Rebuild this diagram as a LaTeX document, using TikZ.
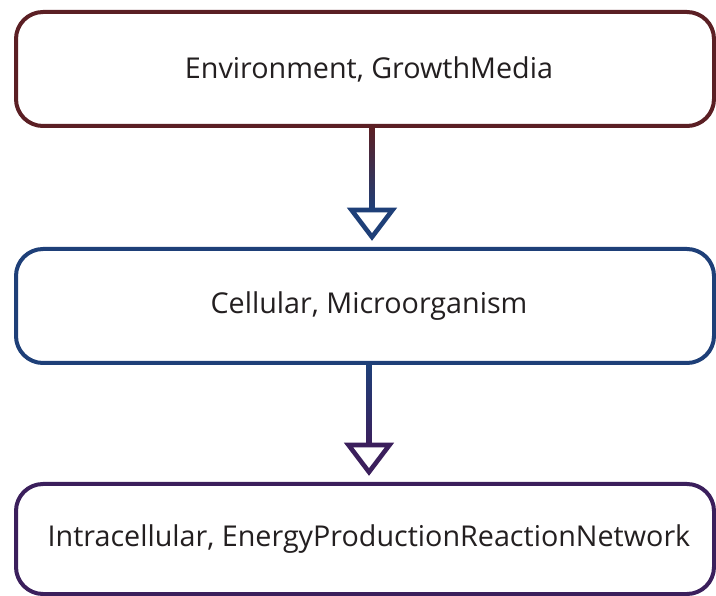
\documentclass[tikz,border=0pt]{standalone}
\usepackage{fontspec}
\setmainfont{Open Sans}
\usetikzlibrary{calc}
\definecolor{envcol}{HTML}{5B1F24}
\definecolor{cellcol}{HTML}{1E3F78}
\definecolor{intracol}{HTML}{3B1F5C}
\definecolor{txtcol}{HTML}{231F20}
\tikzset{
  levelbox/.style={draw=#1, line width=4pt, rounded corners=27pt, fill=white,
    minimum width=698pt, inner sep=0pt, text=txtcol,
    font=\fontsize{28.7}{34}\selectfont},
}
% shaded shaft plus hollow triangular head, from node #1 down to node #2
\newcommand\levelarrow[5]{%
  \path[top color=#3, bottom color=#4]
    ([xshift=#5pt-2.4pt]#1.south) rectangle ([xshift=#5pt+2.4pt, yshift=37pt]#2.north);
  \draw[#4, line width=4.6pt, line join=miter]
    ([xshift=#5pt-20.5pt, yshift=37pt]#2.north) --
    ([xshift=#5pt+20.5pt, yshift=37pt]#2.north) --
    ([xshift=#5pt, yshift=10pt]#2.north) -- cycle;
}
\begin{document}
\begin{tikzpicture}[x=1pt, y=-1pt]
  \useasboundingbox (0,0) rectangle (716,596);
  \fill[white] (0,0) rectangle (716,596);

  \node[levelbox=envcol, minimum height=114pt] (env) at (365,69)
    {\hspace*{8pt}Environment, GrowthMedia};
  \node[levelbox=cellcol, minimum height=114pt] (cell) at (365,306)
    {\hspace*{8pt}Cellular, Microorganism};
  \node[levelbox=intracol, minimum height=110pt] (intra) at (365,539)
    {\hspace*{8pt}Intracellular, EnergyProductionReactionNetwork};

  \levelarrow{env}{cell}{envcol}{cellcol}{7}
  \levelarrow{cell}{intra}{cellcol}{intracol}{4}
\end{tikzpicture}
\end{document}
